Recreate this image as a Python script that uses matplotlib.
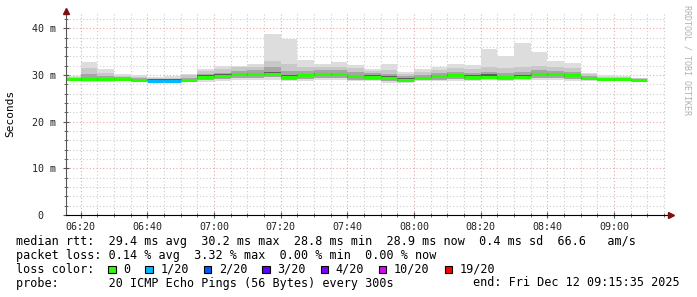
#! /usr/bin/env python

import numpy as np
import matplotlib
matplotlib.use("Agg")
import matplotlib.pyplot as plt
from matplotlib.patches import Rectangle

W, H = 697, 297

# 5 minute bins, minutes after 06:00 (bin start)
bin_start = np.arange(15, 190, 5)
bin_edges = np.append(bin_start, 190)

# median rtt per bin [ms]
med = [29.1, 29.1, 29.1, 29.2, 29.0, 28.8, 28.8, 28.9, 29.6, 29.8,
       30.2, 30.2, 30.2, 29.6, 29.9, 30.1, 30.2, 29.7, 29.6, 29.4,
       29.0, 29.4, 29.7, 29.9, 29.6, 29.6, 29.5, 29.6, 30.2, 30.1,
       29.9, 29.4, 29.1, 29.1, 28.9]
# smoke: spread of the 20 pings per bin [ms]
hi = [29.7, 32.8, 31.2, 30.1, 29.9, 29.6, 29.7, 30.3, 31.2, 31.9,
      32.0, 32.3, 38.7, 37.8, 33.3, 32.3, 32.7, 32.1, 31.2, 32.3,
      30.7, 31.2, 31.7, 32.3, 32.1, 35.5, 34.0, 36.8, 34.9, 32.9,
      32.5, 30.5, 29.9, 29.8, 29.4]
p90 = [29.5, 31.4, 30.5, 29.8, 29.6, 29.4, 29.4, 29.9, 30.8, 31.3,
       31.6, 31.8, 32.9, 32.4, 31.8, 31.6, 31.8, 31.4, 30.8, 31.0,
       30.2, 30.6, 31.1, 31.5, 31.2, 31.7, 31.4, 31.8, 32.0, 31.7,
       31.4, 30.1, 29.6, 29.6, 29.3]
p75 = [29.3, 30.1, 29.7, 29.5, 29.3, 29.2, 29.2, 29.4, 30.2, 30.5,
       30.9, 31.0, 31.6, 30.9, 30.8, 31.0, 31.0, 30.6, 30.4, 30.1,
       29.7, 29.9, 30.5, 30.7, 30.4, 30.7, 30.5, 30.7, 31.0, 30.9,
       30.6, 29.8, 29.4, 29.4, 29.1]
core_hi = [29.3, 29.4, 29.4, 29.4, 29.2, 29.1, 29.1, 29.1, 30.0, 30.1,
           30.5, 30.5, 30.7, 30.0, 30.2, 30.4, 30.5, 30.0, 29.9, 29.7,
           29.3, 29.6, 30.0, 30.2, 29.9, 30.1, 29.8, 29.9, 30.5, 30.4,
           30.2, 29.6, 29.2, 29.2, 29.0]
core_lo = [28.9, 28.8, 28.7, 29.0, 28.8, 28.7, 28.7, 28.7, 29.2, 29.4,
           29.8, 29.8, 29.9, 29.3, 29.5, 29.8, 29.8, 29.4, 29.3, 29.1,
           28.8, 29.2, 29.3, 29.5, 29.3, 29.3, 29.2, 29.3, 29.8, 29.7,
           29.5, 29.2, 28.9, 28.9, 28.8]
p25 = [28.8, 28.7, 28.6, 28.8, 28.7, 28.6, 28.6, 28.6, 28.9, 29.1,
       29.4, 29.4, 29.5, 29.0, 29.1, 29.4, 29.4, 29.0, 29.0, 28.7,
       28.5, 28.9, 29.0, 29.1, 29.0, 29.2, 29.0, 29.1, 29.3, 29.3,
       29.1, 28.9, 28.8, 28.8, 28.7]
lo = [28.6, 28.5, 28.5, 28.6, 28.6, 28.5, 28.5, 28.5, 28.5, 28.6,
      28.9, 28.9, 29.0, 28.7, 28.6, 29.0, 29.0, 28.8, 28.8, 28.3,
      28.2, 28.6, 28.6, 28.6, 28.6, 28.9, 28.7, 28.9, 29.0, 28.9,
      28.7, 28.7, 28.6, 28.6, 28.5]
# lost pings per bin (of 20)
lost = [0, 0, 0, 0, 0, 1, 1, 0, 0, 0,
        0, 0, 0, 0, 0, 0, 0, 0, 0, 0,
        0, 0, 0, 0, 0, 0, 0, 0, 0, 0,
        0, 0, 0, 0, 0]

loss_labels = ["0", "1/20", "2/20", "3/20", "4/20", "10/20", "19/20"]
loss_colors = ["#26ff00", "#00b8ff", "#0059ff", "#5e00ff", "#7e00ff", "#dd00ff", "#ff0000"]
loss_steps = [0, 1, 2, 3, 4, 10, 19]

xticks = [20, 40, 60, 80, 100, 120, 140, 160, 180]
xticklabels = ["06:20", "06:40", "07:00", "07:20", "07:40", "08:00", "08:20", "08:40", "09:00"]
yticks = [0, 10, 20, 30, 40]
yticklabels = ["0  ", "10 m", "20 m", "30 m", "40 m"]

legend_lines = [
    "median rtt:  29.4 ms avg  30.2 ms max  28.8 ms min  28.9 ms now  0.4 ms sd  66.6   am/s",
    "packet loss: 0.14 % avg  3.32 % max  0.00 % min  0.00 % now",
    "loss color:",
    "probe:       20 ICMP Echo Pings (56 Bytes) every 300s",
]
end_text = "end: Fri Dec 12 09:15:35 2025"

plt.rcParams["font.family"] = ["DejaVu Sans Mono"]

fig = plt.figure(figsize=(W / 100, H / 100), dpi=100)
ax = fig.add_axes([66 / W, (H - 215) / H, 600 / W, (215 - 13.3) / H])

x0, x1 = 15 + 35 / 60, 195 + 35 / 60
ax.set_xlim(x0, x1)
ax.set_ylim(0, 43.2)

# grid (under the data)
for x in range(20, 196, 5):
    major = (x % 20 == 0)
    ax.axvline(x, color="#e8a8a8" if major else "#cccccc", lw=0.8,
               ls=(0, (1, 2)), zorder=0)
for y in range(2, 44, 2):
    major = (y % 10 == 0)
    ax.axhline(y, color="#e8a8a8" if major else "#cccccc", lw=0.8,
               ls=(0, (1, 2)), zorder=0)

# smoke
ax.stairs(hi, bin_edges, baseline=lo, fill=True, color="#dddddd", zorder=1)
ax.stairs(p90, bin_edges, baseline=p25, fill=True, color="#c8c8c8", zorder=2)
ax.stairs(p75, bin_edges, baseline=p25, fill=True, color="#a6a6a6", zorder=3)
ax.stairs(core_hi, bin_edges, baseline=core_lo, fill=True, color="#5c5c5c", zorder=4)

# median, coloured by loss
seg_colors = [loss_colors[loss_steps.index(n)] for n in lost]
ax.hlines(med, bin_edges[:-1], bin_edges[1:], colors=seg_colors,
          linewidth=2.2, zorder=5)

# axes
for s in ["top", "right"]:
    ax.spines[s].set_visible(False)
ax.spines["left"].set_color("#555555")
ax.spines["bottom"].set_color("#000000")
ax.spines["left"].set_zorder(6)
ax.spines["bottom"].set_zorder(6)

ax.set_xticks(xticks)
ax.set_xticklabels(xticklabels)
ax.set_xticks(range(20, 196, 5), minor=True)
ax.set_yticks(yticks)
ax.set_yticklabels(yticklabels)
ax.set_yticks(range(2, 44, 2), minor=True)
ax.tick_params(axis="both", which="major", length=4, direction="inout",
               color="#555555", labelsize=7.2, labelcolor="#222222")
ax.tick_params(axis="both", which="minor", length=3, direction="inout",
               color="#555555")
ax.tick_params(axis="x", pad=3)
ax.tick_params(axis="y", pad=5)

# arrows on the axes
ax.plot([x0], [43.6], marker="^", color="#7a1010", markersize=4, clip_on=False, zorder=7)
ax.plot([x1 + 1.5], [0], marker=">", color="#7a1010", markersize=4, clip_on=False, zorder=7)
ax.plot([x1, x1 + 1.5], [0, 0], color="#000000", lw=0.8, clip_on=False, zorder=6)

fig.text(10 / W, 1 - 113 / H, "Seconds", rotation=90, ha="center", va="center",
         fontsize=8, color="#000000")
fig.text(687 / W, 1 - 5 / H, "RRDTOOL / TOBI OETIKER", rotation=270, ha="center",
         va="top", fontsize=6, color="#b0b0b0")

# legend block
fs = 8.5
cw = 7.1
rows = [241.3, 255.3, 269.3, 283.0]
for text, yr in zip(legend_lines, rows):
    fig.text(16 / W, 1 - yr / H, text, ha="left", va="center", fontsize=fs, color="#000000")
fig.text(680 / W, 1 - rows[3] / H, end_text, ha="right", va="center", fontsize=fs, color="#000000")

sx = 108.3
for lab, col in zip(loss_labels, loss_colors):
    fig.add_artist(Rectangle((sx / W, 1 - 273 / H), 7.3 / W, 7.3 / H,
                             transform=fig.transFigure, facecolor=col,
                             edgecolor="#000000", linewidth=0.8))
    fig.text((sx + 15) / W, 1 - rows[2] / H, lab, ha="left", va="center",
             fontsize=fs, color="#000000")
    sx = sx + 15 + cw * len(lab) + 15

fig.savefig("out.png", dpi=100)
